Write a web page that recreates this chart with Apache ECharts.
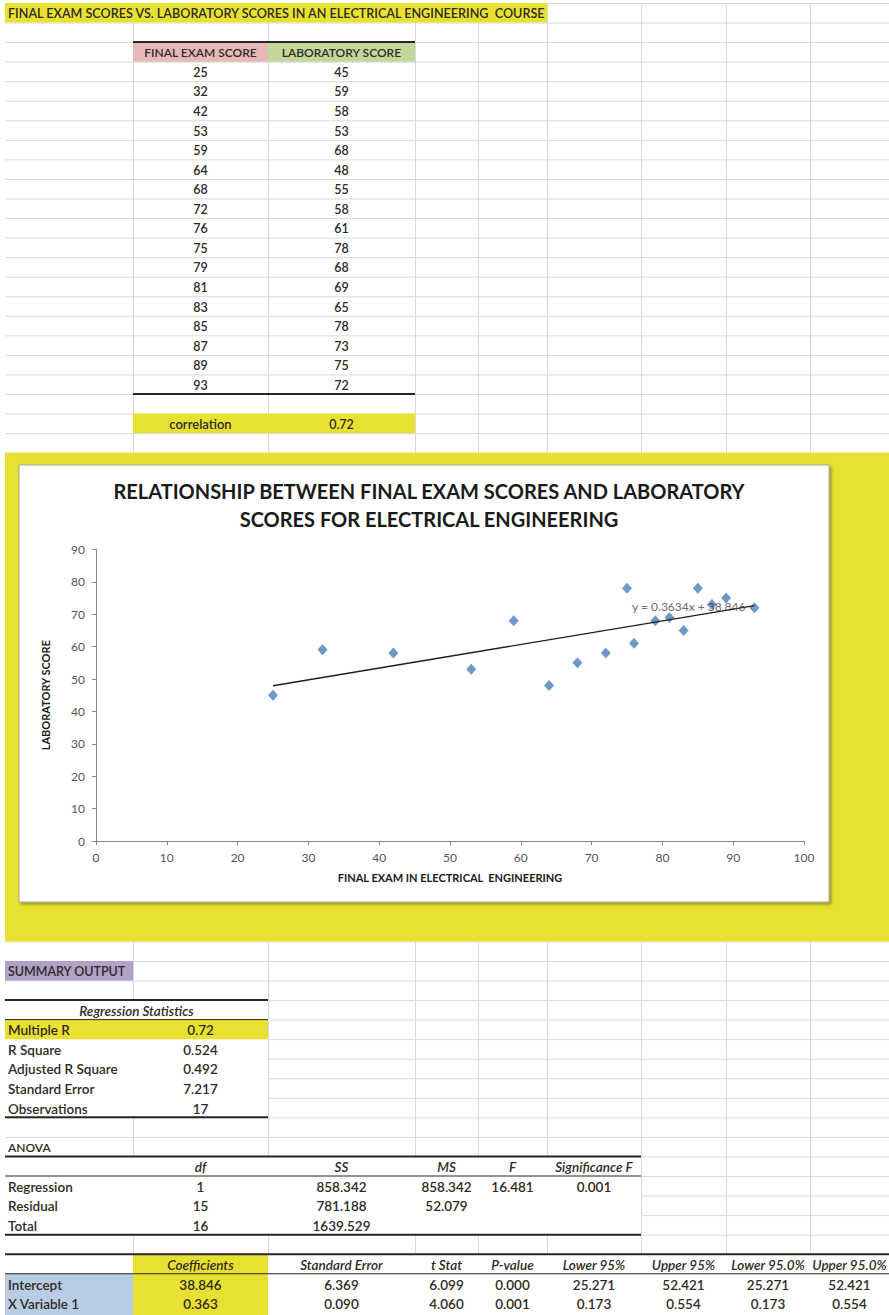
<!DOCTYPE html>
<html>
<head>
<meta charset="utf-8">
<script src="https://cdn.jsdelivr.net/npm/echarts@6/dist/echarts.min.js"></script>
<style>
  html, body { margin: 0; padding: 0; background: #ffffff; }
  #sheet { width: 889px; height: 1315px; }
</style>
</head>
<body>
<div id="sheet"></div>
<script>
// ---- data ----
const sheetTitle = 'FINAL EXAM SCORES VS. LABORATORY SCORES IN AN ELECTRICAL ENGINEERING  COURSE';
const tableHeaders = ['FINAL EXAM SCORE', 'LABORATORY SCORE'];
const finalExam = [25, 32, 42, 53, 59, 64, 68, 72, 76, 75, 79, 81, 83, 85, 87, 89, 93];
const labScore  = [45, 59, 58, 53, 68, 48, 55, 58, 61, 78, 68, 69, 65, 78, 73, 75, 72];
const correlationLabel = 'correlation';
const correlationValue = '0.72';

const chartTitle = 'RELATIONSHIP BETWEEN FINAL EXAM SCORES AND LABORATORY\nSCORES FOR ELECTRICAL ENGINEERING';
const xAxisTitle = 'FINAL EXAM IN ELECTRICAL  ENGINEERING';
const yAxisTitle = 'LABORATORY SCORE';
const trendSlope = 0.3634;
const trendIntercept = 38.846;
const trendLabel = 'y = 0.3634x + 38.846';

const summaryTitle = 'SUMMARY OUTPUT';
const regStatsTitle = 'Regression Statistics';
const regStatLabels = ['Multiple R', 'R Square', 'Adjusted R Square', 'Standard Error', 'Observations'];
const regStatValues = ['0.72', '0.524', '0.492', '7.217', '17'];

const anovaTitle = 'ANOVA';
const anovaHeaders = ['df', 'SS', 'MS', 'F', 'Significance F'];
const anovaLabels = ['Regression', 'Residual', 'Total'];
const anovaValues = [
  ['1', '858.342', '858.342', '16.481', '0.001'],
  ['15', '781.188', '52.079', '', ''],
  ['16', '1639.529', '', '', '']
];

const coefHeaders = ['Coefficients', 'Standard Error', 't Stat', 'P-value', 'Lower 95%', 'Upper 95%', 'Lower 95.0%', 'Upper 95.0%'];
const coefLabels = ['Intercept', 'X Variable 1'];
const coefValues = [
  ['38.846', '6.369', '6.099', '0.000', '25.271', '52.421', '25.271', '52.421'],
  ['0.363', '0.090', '4.060', '0.001', '0.173', '0.554', '0.173', '0.554']
];

// ---- sheet layout ----
const COLS = [5, 133, 268, 415, 478, 547, 641, 726, 810, 889];
const ROW_H = 19.55;
const ROW0 = 3;
const rowTop = r => ROW0 + ROW_H * r;
const colMid = c => (COLS[c] + COLS[c + 1]) / 2;

const FONT = 'Lato, "Open Sans", sans-serif';
const TEXT = '#2e2a25';
const GRID = '#d9d9d9';
const YELLOW = '#e9e12f';

const g = [];

// cell gridlines
for (let r = 0; r <= 67; r++) {
  g.push({ type: 'line', z: 0, silent: true,
    shape: { x1: COLS[0], y1: rowTop(r) + 0.5, x2: 889, y2: rowTop(r) + 0.5 },
    style: { stroke: GRID, lineWidth: 1 } });
}
for (let c = 1; c < COLS.length - 1; c++) {
  g.push({ type: 'line', z: 0, silent: true,
    shape: { x1: COLS[c] + 0.5, y1: ROW0, x2: COLS[c] + 0.5, y2: 1315 },
    style: { stroke: GRID, lineWidth: 1 } });
}

// cell fills
function fill(c0, c1, r0, r1, color) {
  g.push({ type: 'rect', z: 1, silent: true,
    shape: { x: COLS[c0], y: rowTop(r0), width: COLS[c1] - COLS[c0], height: rowTop(r1) - rowTop(r0) },
    style: { fill: color } });
}
fill(0, 5, 0, 1, YELLOW);              // sheet title band
fill(1, 2, 2, 3, '#e6b8b7');           // header: final exam
fill(2, 3, 2, 3, '#c4d79b');           // header: laboratory
fill(1, 3, 21, 22, YELLOW);            // correlation row
fill(0, 9, 23, 48, YELLOW);            // chart area
fill(0, 1, 49, 50, '#b1a0c7');         // summary output
fill(0, 2, 51, 57, '#ffffff');         // regression statistics table
fill(0, 2, 52, 53, YELLOW);            // multiple R
fill(0, 6, 59, 63, '#ffffff');         // anova table
fill(0, 9, 64, 67.2, '#ffffff');       // coefficient table
fill(1, 2, 64, 67.2, YELLOW);          // coefficients column
fill(0, 1, 65, 67.2, '#b8cce4');       // coefficient row labels

// table borders
function rule(c0, c1, r, w) {
  g.push({ type: 'line', z: 2, silent: true,
    shape: { x1: COLS[c0], y1: rowTop(r), x2: COLS[c1], y2: rowTop(r) },
    style: { stroke: '#262626', lineWidth: w } });
}
rule(1, 3, 2, 2);
rule(1, 3, 20, 2);
rule(0, 2, 51, 2);
rule(0, 2, 52, 1);
rule(0, 2, 57, 2);
rule(0, 6, 59, 2);
rule(0, 6, 60, 1);
rule(0, 6, 63, 2);
rule(0, 9, 64, 2);
rule(0, 9, 65, 1);

// cell text
function cell(text, x, r, align, opts) {
  g.push({ type: 'text', z: 3, silent: true,
    style: Object.assign({ text: text, x: x, y: rowTop(r) + ROW_H / 2 + 1,
      align: align, verticalAlign: 'middle', fill: TEXT,
      fontFamily: FONT, fontSize: 12.5, fontWeight: 600 }, opts || {}) });
}
const left = c => COLS[c] + 3;
const LOW = { fontSize: 13.5 };
const LOW_I = { fontSize: 13.5, fontStyle: 'italic' };

cell(sheetTitle, left(0), 0, 'left', { fontSize: 12.6 });
cell(tableHeaders[0], colMid(1), 2, 'center', { fontSize: 12 });
cell(tableHeaders[1], colMid(2), 2, 'center', { fontSize: 12 });
finalExam.forEach((v, i) => {
  cell(String(v), colMid(1), 3 + i, 'center');
  cell(String(labScore[i]), colMid(2), 3 + i, 'center');
});
cell(correlationLabel, colMid(1), 21, 'center', { fontSize: 13 });
cell(correlationValue, colMid(2), 21, 'center');

cell(summaryTitle, left(0), 49, 'left');
cell(regStatsTitle, (COLS[0] + COLS[2]) / 2, 51, 'center', LOW_I);
regStatLabels.forEach((t, i) => {
  cell(t, left(0), 52 + i, 'left', LOW);
  cell(regStatValues[i], colMid(1), 52 + i, 'center', LOW);
});

cell(anovaTitle, left(0), 58, 'left', { fontSize: 12 });
anovaHeaders.forEach((t, j) => cell(t, colMid(1 + j), 59, 'center', LOW_I));
anovaLabels.forEach((t, i) => {
  cell(t, left(0), 60 + i, 'left', LOW);
  anovaValues[i].forEach((v, j) => { if (v) cell(v, colMid(1 + j), 60 + i, 'center', LOW); });
});

coefHeaders.forEach((t, j) => cell(t, colMid(1 + j), 64, 'center', LOW_I));
coefLabels.forEach((t, i) => {
  cell(t, left(0), 65 + i, 'left', LOW);
  coefValues[i].forEach((v, j) => cell(v, colMid(1 + j), 65 + i, 'center', LOW));
});

// chart frame
g.push({ type: 'rect', z: 4, silent: true,
  shape: { x: 19, y: 465, width: 810, height: 437 },
  style: { fill: '#ffffff', stroke: '#a5a5a5', lineWidth: 1,
    shadowBlur: 3, shadowOffsetX: 2, shadowOffsetY: 2, shadowColor: 'rgba(0,0,0,0.35)' } });

// ---- chart ----
const points = finalExam.map((x, i) => [x, labScore[i]]);
const xMin = Math.min(...finalExam), xMax = Math.max(...finalExam);
const trend = [xMin, xMax].map(x => [x, trendSlope * x + trendIntercept]);

const axisText = { fontFamily: FONT, fontSize: 12, color: '#555555' };
const axisName = { fontFamily: FONT, fontWeight: 'bold', fontSize: 11, color: '#1a1a1a' };

const chart = echarts.init(document.getElementById('sheet'), null, { renderer: 'svg', width: 889, height: 1315 });
chart.setOption({
  animation: false,
  backgroundColor: '#ffffff',
  graphic: { elements: g },
  title: {
    text: chartTitle, left: 424, top: 472, textAlign: 'center', z: 20,
    textStyle: { fontFamily: FONT, fontWeight: 'bold', fontSize: 20, lineHeight: 28, color: '#1a1a1a' }
  },
  grid: { left: 96, top: 549.4, width: 708, height: 291.6, containLabel: false },
  xAxis: {
    type: 'value', min: 0, max: 100, interval: 10, z: 10,
    name: xAxisTitle, nameLocation: 'middle', nameGap: 31, nameTextStyle: axisName,
    axisLine: { show: true, lineStyle: { color: '#868686', width: 1 } },
    axisTick: { show: true, length: 4, lineStyle: { color: '#868686' } },
    axisLabel: Object.assign({ margin: 10 }, axisText),
    splitLine: { show: false }
  },
  yAxis: {
    type: 'value', min: 0, max: 90, interval: 10, z: 10,
    name: yAxisTitle, nameLocation: 'middle', nameGap: 45, nameRotate: 90, nameTextStyle: axisName,
    axisLine: { show: true, lineStyle: { color: '#868686', width: 1 } },
    axisTick: { show: true, length: 4, lineStyle: { color: '#868686' } },
    axisLabel: Object.assign({ margin: 11 }, axisText),
    splitLine: { show: false }
  },
  series: [
    {
      type: 'scatter', z: 11, data: points,
      symbol: 'diamond', symbolSize: [10, 11],
      itemStyle: { color: '#4a7ebb' }
    },
    {
      type: 'line', z: 12, data: trend, showSymbol: false, symbol: 'none',
      lineStyle: { color: '#1e1e1e', width: 1.4 }
    },
    {
      type: 'scatter', z: 13, data: [trend[1]], symbolSize: 0, silent: true,
      label: { show: true, position: 'left', distance: 9, offset: [0, 1],
        formatter: trendLabel, fontFamily: FONT, fontSize: 12, color: '#404040' }
    }
  ]
});
</script>
</body>
</html>
